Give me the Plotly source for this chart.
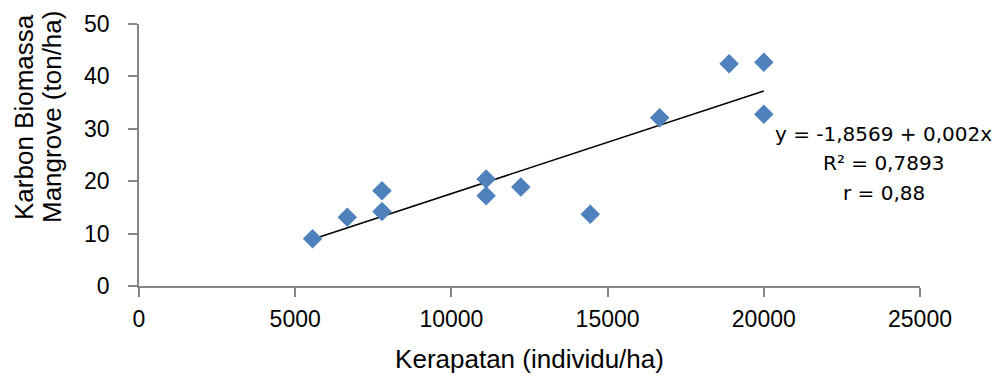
import numpy as np
import plotly.graph_objects as go

# Data
kerapatan = [5556, 6667, 7778, 7778, 11111, 11111, 12222, 14444, 16667, 18889, 20000, 20000]
karbon = [9.0, 13.1, 18.2, 14.2, 20.4, 17.2, 18.9, 13.7, 32.1, 42.4, 42.7, 32.8]
x_ticks = [0, 5000, 10000, 15000, 20000, 25000]
y_ticks = [0, 10, 20, 30, 40, 50]
eq_text = ["y = -1,8569 + 0,002x", "R² = 0,7893", "r = 0,88"]
x_title = "Kerapatan (individu/ha)"
y_title = ["Karbon Biomassa", "Mangrove (ton/ha)"]

# Linear trendline fitted on data
slope, intercept = np.polyfit(kerapatan, karbon, 1)
tx = [min(kerapatan), max(kerapatan)]
ty = [intercept + slope * v for v in tx]

AXC = "#868686"
fig = go.Figure()
fig.add_trace(go.Scatter(x=tx, y=ty, mode="lines",
                         line=dict(color="black", width=1.5), showlegend=False, hoverinfo="skip"))
fig.add_trace(go.Scatter(x=kerapatan, y=karbon, mode="markers",
                         marker=dict(symbol="diamond", size=15, color="#4F81BD",
                                     line=dict(width=0)), showlegend=False))

# page has an 8px body margin: figure is 994x368 placed at (8, 8)
fig.update_layout(
    width=994, height=368,
    margin=dict(l=131, r=82, t=16, b=90, autoexpand=False),
    paper_bgcolor="white", plot_bgcolor="white",
    font=dict(family="Liberation Sans, Arial, sans-serif", color="black"),
    xaxis=dict(range=[0, 25000], tickvals=x_ticks, ticktext=[str(v) for v in x_ticks],
               showgrid=False, zeroline=False, showline=True, linecolor=AXC, linewidth=1.5,
               ticks="outside", ticklen=9, tickcolor=AXC, tickwidth=1.5, automargin=False,
               tickfont=dict(size=23), ticklabelstandoff=3,
               title=dict(text=x_title, font=dict(size=26), standoff=18)),
    yaxis=dict(range=[0, 50], tickvals=y_ticks, ticktext=[str(v) for v in y_ticks],
               showgrid=False, zeroline=False, showline=True, linecolor=AXC, linewidth=1.5,
               ticks="outside", ticklen=9, tickcolor=AXC, tickwidth=1.5, automargin=False,
               tickfont=dict(size=23), ticklabelstandoff=14),
)

# y-axis title as two rotated lines
for txt, px in zip(y_title, [24, 52]):
    fig.add_annotation(text=txt, textangle=-90, xref="paper", yref="paper",
                       x=(px - 139) / 781, y=(286 - 117) / 262,
                       xanchor="center", yanchor="middle", showarrow=False,
                       font=dict(size=26, family="Liberation Sans, Arial, sans-serif"))

# regression equation, one annotation per line
eq_x = 23847
eq_y = [29.05, 23.45, 17.75]
for txt, yy in zip(eq_text, eq_y):
    fig.add_annotation(text=txt, xref="x", yref="y", x=eq_x, y=yy,
                       xanchor="center", yanchor="middle", showarrow=False,
                       font=dict(size=20, family="DejaVu Sans, sans-serif", color="black"))

fig.write_html("out.html")
